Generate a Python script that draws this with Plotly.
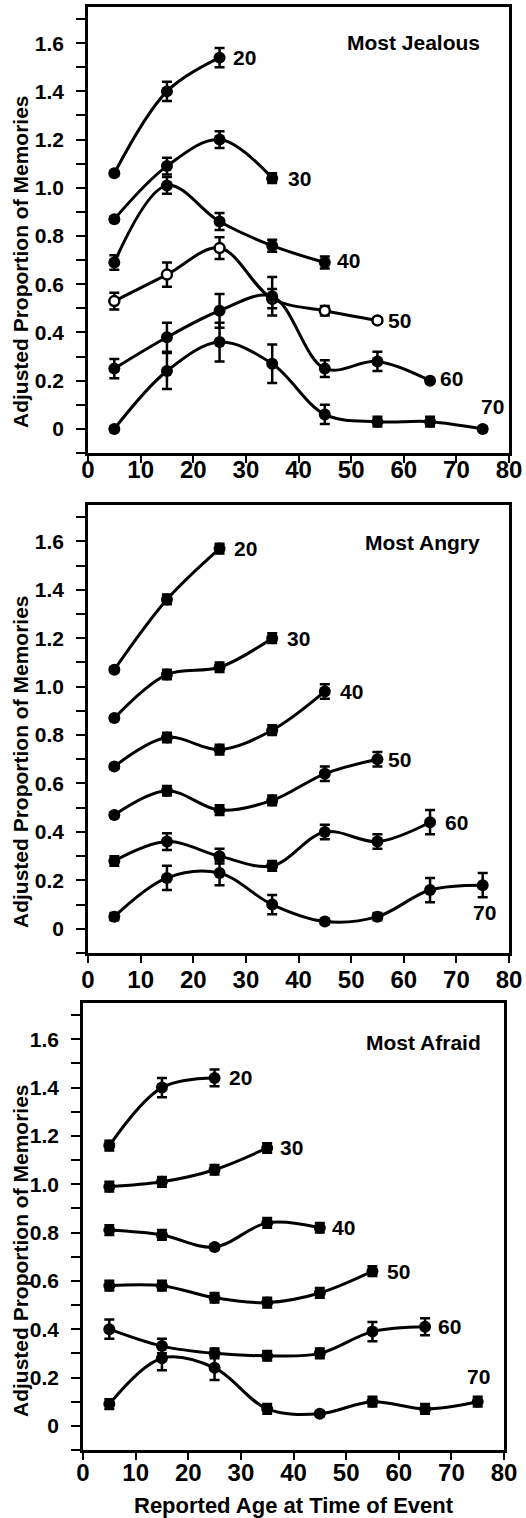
import plotly.graph_objects as go

ages = [5, 15, 25, 35, 45, 55, 65, 75]
cohorts = [20, 30, 40, 50, 60, 70]
panel_titles = ["Most Jealous", "Most Angry", "Most Afraid"]
x_ticks = [0, 10, 20, 30, 40, 50, 60, 70, 80]
y_tick_vals = [-0.1, 0, 0.1, 0.2, 0.3, 0.4, 0.5, 0.6, 0.7, 0.8, 0.9, 1.0, 1.1, 1.2, 1.3, 1.4, 1.5, 1.6, 1.7]
y_tick_text = ["", "0", "", "0.2", "", "0.4", "", "0.6", "", "0.8", "", "1.0", "", "1.2", "", "1.4", "", "1.6", ""]
y_title = "Adjusted Proportion of Memories"
x_title = "Reported Age at Time of Event"

# Most Jealous
jealous_20 = [1.06, 1.40, 1.54]
jealous_20_err = [0.01, 0.04, 0.04]
jealous_30 = [0.87, 1.09, 1.20, 1.04]
jealous_30_err = [0.01, 0.035, 0.035, 0.02]
jealous_40 = [0.69, 1.01, 0.86, 0.76, 0.69]
jealous_40_err = [0.03, 0.035, 0.035, 0.025, 0.025]
jealous_50 = [0.53, 0.64, 0.75, 0.54, 0.49, 0.45]
jealous_50_err = [0.035, 0.05, 0.045, 0.04, 0.02, 0.01]
jealous_60 = [0.25, 0.38, 0.49, 0.55, 0.25, 0.28, 0.20]
jealous_60_err = [0.04, 0.06, 0.07, 0.08, 0.035, 0.04, 0.01]
jealous_70 = [0.00, 0.24, 0.36, 0.27, 0.06, 0.03, 0.03, 0.00]
jealous_70_err = [0.01, 0.075, 0.08, 0.08, 0.04, 0.02, 0.02, 0.01]

# Most Angry
angry_20 = [1.07, 1.36, 1.57]
angry_20_err = [0.01, 0.02, 0.02]
angry_30 = [0.87, 1.05, 1.08, 1.20]
angry_30_err = [0.01, 0.02, 0.02, 0.02]
angry_40 = [0.67, 0.79, 0.74, 0.82, 0.98]
angry_40_err = [0.01, 0.02, 0.02, 0.02, 0.03]
angry_50 = [0.47, 0.57, 0.49, 0.53, 0.64, 0.70]
angry_50_err = [0.01, 0.02, 0.02, 0.02, 0.03, 0.03]
angry_60 = [0.28, 0.36, 0.30, 0.26, 0.40, 0.36, 0.44]
angry_60_err = [0.02, 0.035, 0.03, 0.02, 0.03, 0.03, 0.05]
angry_70 = [0.05, 0.21, 0.23, 0.10, 0.03, 0.05, 0.16, 0.18]
angry_70_err = [0.015, 0.05, 0.05, 0.04, 0.01, 0.015, 0.05, 0.05]

# Most Afraid
afraid_20 = [1.16, 1.40, 1.44]
afraid_20_err = [0.02, 0.04, 0.035]
afraid_30 = [0.99, 1.01, 1.06, 1.15]
afraid_30_err = [0.02, 0.02, 0.02, 0.02]
afraid_40 = [0.81, 0.79, 0.74, 0.84, 0.82]
afraid_40_err = [0.02, 0.02, 0.01, 0.02, 0.02]
afraid_50 = [0.58, 0.58, 0.53, 0.51, 0.55, 0.64]
afraid_50_err = [0.02, 0.02, 0.02, 0.02, 0.02, 0.02]
afraid_60 = [0.40, 0.33, 0.30, 0.29, 0.30, 0.39, 0.41]
afraid_60_err = [0.04, 0.03, 0.02, 0.02, 0.02, 0.04, 0.035]
afraid_70 = [0.09, 0.28, 0.24, 0.07, 0.05, 0.10, 0.07, 0.10]
afraid_70_err = [0.02, 0.05, 0.05, 0.02, 0.01, 0.02, 0.02, 0.02]

panels = [
    [(jealous_20, jealous_20_err), (jealous_30, jealous_30_err), (jealous_40, jealous_40_err),
     (jealous_50, jealous_50_err), (jealous_60, jealous_60_err), (jealous_70, jealous_70_err)],
    [(angry_20, angry_20_err), (angry_30, angry_30_err), (angry_40, angry_40_err),
     (angry_50, angry_50_err), (angry_60, angry_60_err), (angry_70, angry_70_err)],
    [(afraid_20, afraid_20_err), (afraid_30, afraid_30_err), (afraid_40, afraid_40_err),
     (afraid_50, afraid_50_err), (afraid_60, afraid_60_err), (afraid_70, afraid_70_err)],
]

W, H = 526, 1518
FONT = "Liberation Sans, Arial, sans-serif"
BOLD = "<b>%s</b>"
TS = 21  # text size (bold)

# layout geometry in pixels (left, right, top, bottom)
boxes = [(88, 509, 7, 453), (88, 509, 505, 953), (83, 504, 1003, 1450)]
xlabel_line = [453, 963, 1456]   # pixel row of the (invisible) tick-label axis
title_cy = [262, 762, 1251]
ptitle_cy = [43, 543, 1042]
ptitle_right = [482, 482, 483]
# label offsets (xshift, yshift) for cohort labels
label_off = [
    {20: (11, 0), 30: (14, 0), 40: (10, 2), 50: (9, 0), 60: (8, 2), 70: (10, 22)},
    {20: (12, 0), 30: (13, 0), 40: (13, 0), 50: (9, 0), 60: (13, 0), 70: (2, -27)},
    {20: (12, 0), 30: (11, 0), 40: (10, 0), 50: (13, 0), 60: (11, 0), 70: (1, 25)},
]

fig = go.Figure()
layout = dict(
    width=W, height=H, margin=dict(l=0, r=0, t=0, b=0),
    paper_bgcolor="white", plot_bgcolor="white", showlegend=False,
    font=dict(family=FONT, size=TS, color="black"),
)
annotations = []

for p, series in enumerate(panels):
    sfx = "" if p == 0 else str(p + 1)
    xa, ya = "x" + sfx, "y" + sfx
    for ci, (vals, errs) in enumerate(series):
        xs = ages[:len(vals)]
        open_marker = (p == 0 and cohorts[ci] == 50)
        fig.add_trace(go.Scatter(
            x=xs, y=vals, xaxis=xa, yaxis=ya, mode="lines+markers",
            line=dict(color="black", width=3, shape="spline", smoothing=1.0),
            marker=dict(size=12 if not open_marker else 10,
                        color="white" if open_marker else "black",
                        line=dict(color="black", width=2.5 if open_marker else 0)),
            error_y=dict(type="data", array=errs, visible=True, color="black", thickness=2.5, width=5),
            cliponaxis=False,
        ))
        c = cohorts[ci]
        dx, dy = label_off[p][c]
        annotations.append(dict(x=xs[-1], y=vals[-1], xref=xa, yref=ya, text=BOLD % c,
                                showarrow=False, xanchor="center" if c == 70 else "left",
                                yanchor="middle", xshift=dx, yshift=dy, font=dict(size=TS)))

    # empty trace so the tick-label axis is drawn
    lab_x = "x" + str(p + 4)
    fig.add_trace(go.Scatter(x=[], y=[], xaxis=lab_x, yaxis=ya, mode="markers",
                             hoverinfo="skip", showlegend=False))

    l, r, t, b = boxes[p]
    layout["xaxis" + sfx] = dict(
        domain=[l / W, r / W], anchor=ya, range=[0, 80], tickvals=x_ticks,
        showticklabels=False,
        ticks="outside", ticklen=7, tickwidth=2, tickcolor="black",
        showline=True, mirror=True, linewidth=2.5, linecolor="black",
        showgrid=False, zeroline=False, automargin=False,
    )
    # tick-label axis overlaying the panel's x axis
    layout["xaxis" + str(p + 4)] = dict(
        overlaying=xa, anchor="free", position=1 - xlabel_line[p] / H,
        range=[0, 80], tickvals=x_ticks, ticktext=[BOLD % v for v in x_ticks],
        ticks="", showline=False, showgrid=False, zeroline=False, automargin=False,
        tickfont=dict(family=FONT, size=24, color="black"),
    )
    layout["yaxis" + sfx] = dict(
        domain=[1 - b / H, 1 - t / H], anchor=xa, range=[-0.1, 1.75],
        tickvals=y_tick_vals, ticktext=[BOLD % s if s else "" for s in y_tick_text],
        ticks="outside", ticklen=9, tickwidth=2, tickcolor="black",
        showline=True, mirror=True, linewidth=2.5, linecolor="black",
        showgrid=False, zeroline=False, automargin=False,
        tickfont=dict(family=FONT, size=TS, color="black"),
        ticklabelstandoff=8,
    )
    annotations.append(dict(x=20 / W, y=1 - title_cy[p] / H, xref="paper", yref="paper",
                            text=BOLD % y_title, textangle=-90, showarrow=False,
                            xanchor="center", yanchor="middle", font=dict(size=TS)))
    annotations.append(dict(x=ptitle_right[p] / W, y=1 - ptitle_cy[p] / H, xref="paper", yref="paper",
                            text=BOLD % panel_titles[p], showarrow=False,
                            xanchor="right", yanchor="middle", font=dict(size=TS)))

annotations.append(dict(x=294 / W, y=1 - 1505 / H, xref="paper", yref="paper",
                        text=BOLD % x_title, showarrow=False, xanchor="center", yanchor="middle",
                        font=dict(size=22)))
layout["annotations"] = annotations
fig.update_layout(**layout)
fig.write_html("out.html")
